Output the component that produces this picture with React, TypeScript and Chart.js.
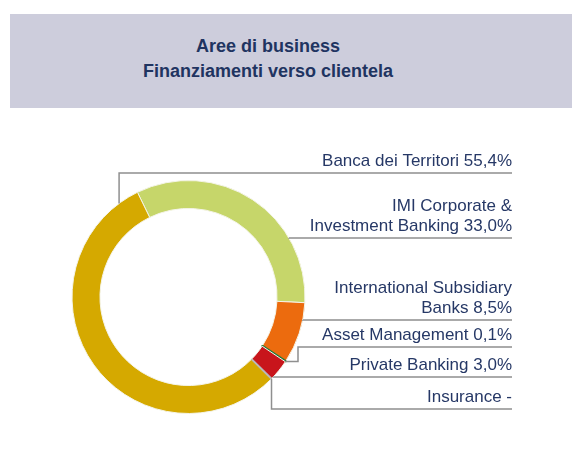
import React, { useEffect, useRef } from "react";
import { Chart, registerables } from "chart.js";

Chart.register(...registerables);

const titleLines = ["Aree di business", "Finanziamenti verso clientela"];
const categories = [
  "IMI Corporate & Investment Banking",
  "International Subsidiary Banks",
  "Asset Management",
  "Private Banking",
  "Insurance",
  "Banca dei Territori",
];
const values = [33.0, 8.5, 0.1, 3.0, 0, 55.4];
const labelTexts = [
  ["IMI Corporate &", "Investment Banking 33,0%"],
  ["International Subsidiary", "Banks 8,5%"],
  ["Asset Management 0,1%"],
  ["Private Banking 3,0%"],
  ["Insurance -"],
  ["Banca dei Territori 55,4%"],
];
const colors = ["#c6d66a", "#ec6b0e", "#237a3a", "#c8151b", "#b8b8b8", "#d5a900"];

// label layout: y of the underline, where on the slice the leader starts, optional elbow x
const labelLayout = [
  { lineY: 238, frac: 0.72, elbowX: null as number | null },
  { lineY: 320, frac: 0.28, elbowX: null as number | null },
  { lineY: 347, frac: 0.5, elbowX: 298 as number | null },
  { lineY: 377, frac: 0.88, elbowX: null as number | null },
  { lineY: 409, frac: 0.5, elbowX: null as number | null },
  { lineY: 173, frac: 0.947, elbowX: null as number | null },
];
const labelRightX = 512;

const leaderPlugin = {
  id: "leaders",
  afterDatasetsDraw(chart: any) {
    const ctx = chart.ctx;
    const meta = chart.getDatasetMeta(0);
    ctx.save();
    meta.data.forEach((arc: any, i: number) => {
      const { x, y, startAngle, endAngle, outerRadius, innerRadius } = arc.getProps(
        ["x", "y", "startAngle", "endAngle", "outerRadius", "innerRadius"],
        true
      );
      // zero-value slice separator
      if (values[i] === 0) {
        ctx.strokeStyle = colors[i];
        ctx.lineWidth = 2;
        ctx.beginPath();
        ctx.moveTo(x + innerRadius * Math.cos(startAngle), y + innerRadius * Math.sin(startAngle));
        ctx.lineTo(x + outerRadius * Math.cos(startAngle), y + outerRadius * Math.sin(startAngle));
        ctx.stroke();
      }
      const lay = labelLayout[i];
      const a = startAngle + lay.frac * (endAngle - startAngle);
      const ax = x + outerRadius * Math.cos(a);
      const ay = y + outerRadius * Math.sin(a);
      ctx.strokeStyle = "#8f8f8f";
      ctx.lineWidth = 1.5;
      ctx.beginPath();
      ctx.moveTo(ax, ay);
      if (lay.elbowX !== null) {
        ctx.lineTo(lay.elbowX, ay);
        ctx.lineTo(lay.elbowX, lay.lineY);
      } else {
        ctx.lineTo(ax, lay.lineY);
      }
      ctx.lineTo(labelRightX, lay.lineY);
      ctx.stroke();

      ctx.fillStyle = "#263866";
      ctx.font = "17px 'Liberation Sans', Arial, sans-serif";
      ctx.textAlign = "right";
      ctx.textBaseline = "middle";
      const lines = labelTexts[i];
      lines.forEach((t, k) => {
        ctx.fillText(t, labelRightX, lay.lineY - 11.5 - 20 * (lines.length - 1 - k));
      });
    });
    ctx.restore();
  },
};

export default function App() {
  const ref = useRef<HTMLCanvasElement>(null);
  useEffect(() => {
    if (!ref.current) return;
    const chart = new Chart(ref.current, {
      type: "doughnut",
      data: {
        labels: categories,
        datasets: [
          {
            data: values,
            backgroundColor: colors,
            borderColor: ["#f4f4e8", "#f4f4e8", "#237a3a", "#f4f4e8", "#f4f4e8", "#f4f4e8"],
            borderWidth: [1, 1, 2, 1, 1, 1],
          },
        ],
      },
      options: {
        responsive: false,
        animation: false,
        devicePixelRatio: 1,
        rotation: -26,
        cutout: "76%",
        layout: { padding: { left: 71, top: 179, right: 266, bottom: 51 } },
        plugins: { legend: { display: false }, tooltip: { enabled: false } },
      },
      plugins: [leaderPlugin],
    });
    return () => chart.destroy();
  }, []);
  return (
    <div style={{ position: "fixed", left: 0, top: 0, width: 572, height: 466, background: "#fff" }}>
      <div
        style={{
          position: "absolute",
          left: 10,
          top: 14,
          width: 562,
          height: 94,
          background: "#cdcddc",
        }}
      />
      <div
        style={{
          position: "absolute",
          left: 0,
          top: 34,
          width: 536,
          textAlign: "center",
          fontFamily: "'Liberation Sans', Arial, sans-serif",
          fontWeight: "bold",
          fontSize: 18,
          lineHeight: "25px",
          color: "#1f3461",
        }}
      >
        {titleLines.map((t) => (
          <div key={t}>{t}</div>
        ))}
      </div>
      <canvas ref={ref} width={572} height={466} style={{ position: "absolute", left: 0, top: 0 }} />
    </div>
  );
}
